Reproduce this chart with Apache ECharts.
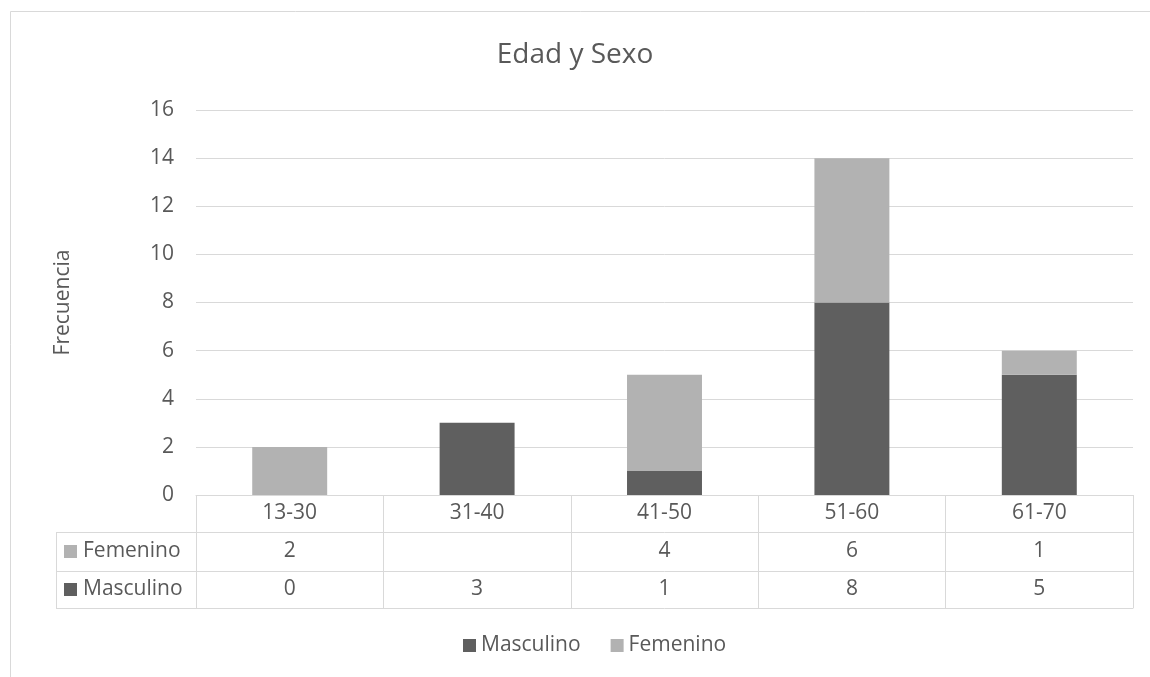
<!DOCTYPE html>
<html>
<head>
<meta charset="utf-8">
<title>Edad y Sexo</title>
<script src="https://cdn.jsdelivr.net/npm/echarts@6/dist/echarts.min.js"></script>
<style>
  html, body { margin: 0; padding: 0; background: #fff; }
  #chart { width: 1150px; height: 677px; }
</style>
</head>
<body>
<div id="chart"></div>
<script>
var categories = ['13-30', '31-40', '41-50', '51-60', '61-70'];
var masculino = [0, 3, 1, 8, 5];
var femenino = [2, null, 4, 6, 1];
var yTicks = { min: 0, max: 16, interval: 2 };

var DARK = '#5f5f5f';
var LIGHT = '#b2b2b2';
var LINE = '#d9d9d9';
var TEXT = '#595959';
var FONT = '"Open Sans", "Liberation Sans", sans-serif';
var FS = 21;

// tabla de datos bajo el grafico: filas en pixeles
var gridLeft = 196, gridRight = 1133, gridBottom = 495;
var rows = [495, 532, 571, 608];
var tableLeft = 56;

function cellText(arr) {
  return function (value, index) {
    var v = arr[index];
    return v == null ? '' : String(v);
  };
}

function tableAxis(offset, rowHeight, formatter) {
  return {
    type: 'category',
    data: categories,
    position: 'bottom',
    offset: offset,
    axisLine: { show: true, lineStyle: { color: LINE, width: 1 } },
    axisTick: { show: rowHeight > 0, interval: 0, length: rowHeight, lineStyle: { color: LINE } },
    axisLabel: {
      show: !!formatter,
      interval: 0,
      margin: rowHeight / 2,
      verticalAlign: 'middle',
      color: TEXT,
      fontSize: FS,
      fontFamily: FONT,
      formatter: formatter
    },
    splitLine: { show: false }
  };
}

function legendCell(y0, y1, color, label) {
  var cy = (y0 + y1) / 2;
  return [
    { type: 'rect', shape: { x: 64, y: cy - 6.5, width: 13, height: 13 }, style: { fill: color } },
    { type: 'text', x: 83, y: cy, style: { text: label, fill: TEXT, font: FS + 'px ' + FONT, verticalAlign: 'middle' } }
  ];
}

var chart = echarts.init(document.getElementById('chart'));

var graphics = [
  // borde exterior del area del grafico
  { type: 'rect', shape: { x: 10.5, y: 11.5, width: 1200, height: 800 }, style: { fill: 'none', stroke: LINE, lineWidth: 1 } },
  { type: 'line', shape: { x1: tableLeft, y1: rows[1] + 0.5, x2: gridLeft, y2: rows[1] + 0.5 }, style: { stroke: LINE } },
  { type: 'line', shape: { x1: tableLeft, y1: rows[2] + 0.5, x2: gridLeft, y2: rows[2] + 0.5 }, style: { stroke: LINE } },
  { type: 'line', shape: { x1: tableLeft, y1: rows[3] + 0.5, x2: gridLeft, y2: rows[3] + 0.5 }, style: { stroke: LINE } },
  { type: 'line', shape: { x1: tableLeft + 0.5, y1: rows[1], x2: tableLeft + 0.5, y2: rows[3] }, style: { stroke: LINE } }
].concat(legendCell(rows[1], rows[2], LIGHT, 'Femenino'))
 .concat(legendCell(rows[2], rows[3], DARK, 'Masculino'));

var option = {
  backgroundColor: '#fff',
  animation: false,
  textStyle: { fontFamily: FONT },
  title: {
    text: 'Edad y Sexo',
    left: 'center',
    top: 36,
    textStyle: { color: TEXT, fontSize: 28, fontWeight: 'normal', fontFamily: FONT }
  },
  legend: {
    data: ['Masculino', 'Femenino'],
    left: 458,
    top: 630,
    icon: 'rect',
    itemWidth: 13,
    itemHeight: 13,
    itemGap: 30,
    textStyle: { color: TEXT, fontSize: FS, fontFamily: FONT }
  },
  grid: {
    left: gridLeft,
    right: 1150 - gridRight,
    top: 110,
    bottom: 677 - gridBottom
  },
  xAxis: [
    tableAxis(0, rows[1] - rows[0], function (v) { return v; }),
    tableAxis(rows[1] - rows[0], rows[2] - rows[1], cellText(femenino)),
    tableAxis(rows[2] - rows[0], rows[3] - rows[2], cellText(masculino)),
    tableAxis(rows[3] - rows[0], 0, null)
  ],
  yAxis: {
    type: 'value',
    min: yTicks.min,
    max: yTicks.max,
    interval: yTicks.interval,
    name: 'Frecuencia',
    nameLocation: 'middle',
    nameGap: 122,
    nameTextStyle: { color: TEXT, fontSize: FS, fontFamily: FONT },
    axisLine: { show: false },
    axisTick: { show: false },
    axisLabel: { color: TEXT, fontSize: FS, fontFamily: FONT, margin: 22 },
    splitLine: { lineStyle: { color: LINE, width: 1 } }
  },
  series: [
    {
      name: 'Masculino',
      type: 'bar',
      stack: 'total',
      xAxisIndex: 0,
      barWidth: '40%',
      itemStyle: { color: DARK },
      data: masculino
    },
    {
      name: 'Femenino',
      type: 'bar',
      stack: 'total',
      xAxisIndex: 0,
      barWidth: '40%',
      itemStyle: { color: LIGHT },
      data: femenino
    }
  ],
  graphic: graphics
};

chart.setOption(option);
</script>
</body>
</html>
